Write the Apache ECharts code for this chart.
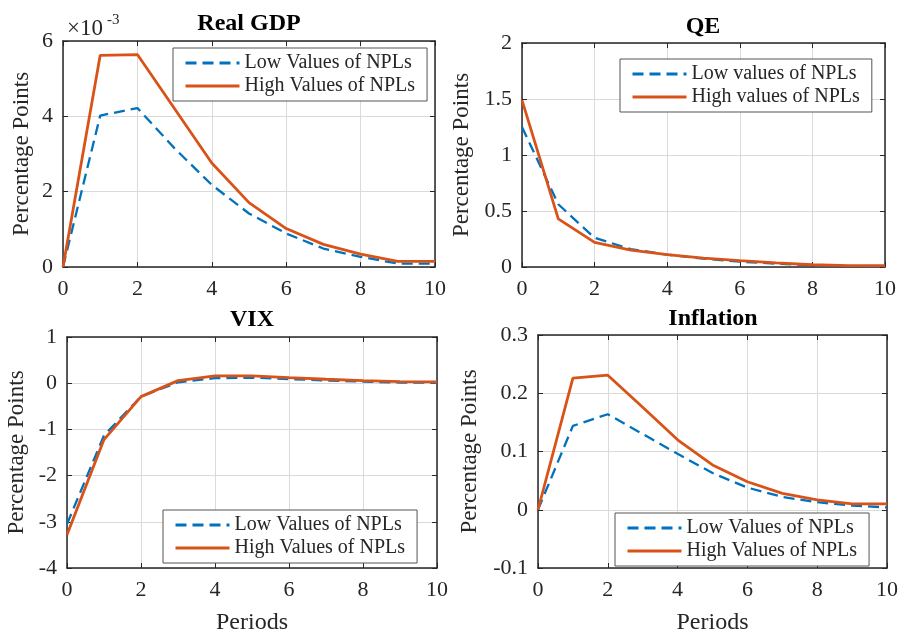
<!DOCTYPE html>
<html>
<head>
<meta charset="utf-8">
<script src="https://cdn.jsdelivr.net/npm/echarts@6/dist/echarts.min.js"></script>
<style>
  html, body { margin: 0; padding: 0; background: #fff; }
  #chart { width: 901px; height: 636px; }
</style>
</head>
<body>
<div id="chart"></div>
<script>
var periods = [0, 1, 2, 3, 4, 5, 6, 7, 8, 9, 10];

// Real GDP, in units of 10^-3
var gdpLow = [0, 4.02, 4.22, 3.15, 2.18, 1.42, 0.89, 0.49, 0.27, 0.09, 0.09];
var gdpHigh = [0, 5.62, 5.64, 4.2, 2.76, 1.71, 1.02, 0.6, 0.34, 0.15, 0.15];

var qeLow = [1.25, 0.56, 0.26, 0.16, 0.11, 0.075, 0.048, 0.03, 0.015, 0.008, 0.005];
var qeHigh = [1.49, 0.43, 0.22, 0.15, 0.11, 0.08, 0.057, 0.036, 0.02, 0.012, 0.012];

var vixLow = [-3.05, -1.13, -0.29, 0.02, 0.11, 0.12, 0.09, 0.06, 0.035, 0.015, 0.008];
var vixHigh = [-3.28, -1.22, -0.29, 0.055, 0.16, 0.16, 0.12, 0.085, 0.055, 0.035, 0.03];

var infLow = [0, 0.144, 0.164, 0.13, 0.096, 0.063, 0.038, 0.022, 0.013, 0.007, 0.004];
var infHigh = [0, 0.226, 0.231, 0.176, 0.12, 0.077, 0.048, 0.028, 0.017, 0.01, 0.01];

var lowName = 'Low Values of NPLs';
var highName = 'High Values of NPLs';
var lowNameQE = 'Low values of NPLs';
var highNameQE = 'High values of NPLs';

var blue = '#0072BD';
var orange = '#D95319';
var ink = '#262626';
var font = 'Liberation Serif';

var dom = document.getElementById('chart');
var chart = echarts.init(dom, null, { renderer: 'canvas' });

var grids = [
    { left: 63, top: 41, width: 372, height: 226 },
    { left: 522, top: 43, width: 363, height: 224 },
    { left: 67, top: 337, width: 370, height: 238 },
    { left: 538, top: 335, width: 350, height: 240 }
];

var yRange = [
    { min: 0, max: 6, interval: 2, gap: 30 },
    { min: 0, max: 2, interval: 0.5, gap: 49 },
    { min: -4, max: 1, interval: 1, gap: 39 },
    { min: -0.1, max: 0.3, interval: 0.1, gap: 57 }
];

let xAxes = [];
let yAxes = [];
grids.forEach((g, i) => {
    xAxes.push({
        type: 'value', gridIndex: i, min: 0, max: 10, interval: 2,
        name: i >= 2 ? 'Periods' : '',
        nameLocation: 'middle', nameGap: 43,
        nameTextStyle: { fontFamily: font, fontSize: 24, color: ink },
        axisLine: { show: true, onZero: false, lineStyle: { color: ink, width: 1.5 } },
        axisTick: { inside: true, length: 5, lineStyle: { color: ink } },
        axisLabel: { fontFamily: font, fontSize: 22, color: ink, margin: 11 },
        splitLine: { show: true, lineStyle: { color: '#dadada', width: 1 } }
    });
    yAxes.push({
        type: 'value', gridIndex: i,
        min: yRange[i].min, max: yRange[i].max, interval: yRange[i].interval,
        name: 'Percentage Points',
        nameLocation: 'middle', nameGap: yRange[i].gap,
        nameTextStyle: { fontFamily: font, fontSize: 23, color: ink },
        axisLine: { show: true, onZero: false, lineStyle: { color: ink, width: 1.5 } },
        axisTick: { inside: true, length: 5, lineStyle: { color: ink } },
        axisLabel: { fontFamily: font, fontSize: 22, color: ink, margin: 10 },
        splitLine: { show: true, lineStyle: { color: '#dadada', width: 1 } }
    });
});
// box on top and right with inward ticks
grids.forEach((g, i) => {
    xAxes.push({
        type: 'value', gridIndex: i, min: 0, max: 10, interval: 2, position: 'top',
        axisLine: { show: true, onZero: false, lineStyle: { color: ink, width: 1.5 } },
        axisTick: { inside: true, length: 5, lineStyle: { color: ink } },
        axisLabel: { show: false },
        splitLine: { show: false }
    });
    yAxes.push({
        type: 'value', gridIndex: i, position: 'right',
        min: yRange[i].min, max: yRange[i].max, interval: yRange[i].interval,
        axisLine: { show: true, onZero: false, lineStyle: { color: ink, width: 1.5 } },
        axisTick: { inside: true, length: 5, lineStyle: { color: ink } },
        axisLabel: { show: false },
        splitLine: { show: false }
    });
});

let pairs = (vals) => periods.map((p, k) => [p, vals[k]]);

let lineSeries = (name, vals, i, dashed) => ({
    name: name,
    type: 'line',
    xAxisIndex: i,
    yAxisIndex: i,
    symbol: 'none',
    z: dashed ? 3 : 4,
    lineStyle: dashed
        ? { color: blue, width: 2.3, type: [11, 6] }
        : { color: orange, width: 2.8 },
    itemStyle: { color: dashed ? blue : orange },
    data: pairs(vals)
});

var series = [
    lineSeries(lowName, gdpLow, 0, true),
    lineSeries(highName, gdpHigh, 0, false),
    lineSeries(lowNameQE, qeLow, 1, true),
    lineSeries(highNameQE, qeHigh, 1, false),
    lineSeries(lowName, vixLow, 2, true),
    lineSeries(highName, vixHigh, 2, false),
    lineSeries(lowName, infLow, 3, true),
    lineSeries(highName, infHigh, 3, false)
];

let legendAt = (left, top, names) => ({
    data: names,
    orient: 'vertical',
    left: left,
    top: top,
    itemWidth: 54,
    itemHeight: 14,
    itemGap: 3,
    padding: [5, 12, 5, 11],
    backgroundColor: '#fff',
    borderColor: '#555',
    borderWidth: 1,
    borderRadius: 0,
    selectedMode: false,
    itemStyle: { opacity: 0 },
    lineStyle: { width: 3 },
    textStyle: { fontFamily: font, fontSize: 20, color: ink }
});

let titleText = (text, x, y) => ({
    type: 'text', x: x, y: y, z: 100,
    style: {
        text: text, textAlign: 'center', textVerticalAlign: 'middle',
        fontFamily: font, fontSize: 24, fontWeight: 'bold', fill: '#000'
    }
});

var option = {
    animation: false,
    backgroundColor: '#fff',
    grid: grids,
    xAxis: xAxes,
    yAxis: yAxes,
    legend: [
        legendAt(173, 48, [lowName, highName]),
        legendAt(620, 59, [lowNameQE, highNameQE]),
        legendAt(163, 510, [lowName, highName]),
        legendAt(615, 513, [lowName, highName])
    ],
    graphic: [
        titleText('Real GDP', 249, 24),
        titleText('QE', 703, 27),
        titleText('VIX', 252, 320),
        titleText('Inflation', 713, 319),
        {
            type: 'text', x: 67, y: 29,
            style: { text: '×10', textVerticalAlign: 'middle', fontFamily: font, fontSize: 23, fill: ink }
        },
        {
            type: 'text', x: 107, y: 20,
            style: { text: '-3', textVerticalAlign: 'middle', fontFamily: font, fontSize: 15, fill: ink }
        }
    ],
    series: series
};

chart.setOption(option);
window.addEventListener('resize', chart.resize);
</script>
</body>
</html>
